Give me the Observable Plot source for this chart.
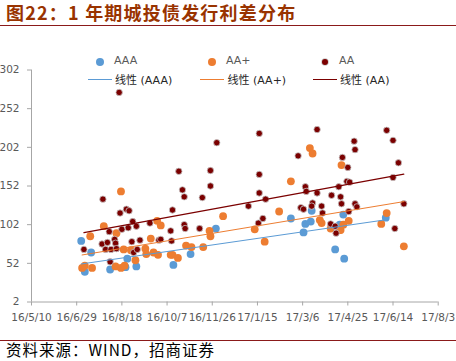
<!DOCTYPE html>
<html><head><meta charset="utf-8">
<script src="https://cdn.jsdelivr.net/npm/d3@7"></script>
<script src="https://cdn.jsdelivr.net/npm/@observablehq/plot@0.6"></script>
<style>
body{margin:0;background:#fff}
#wrap{position:relative;width:456px;height:361px;background:#fff}
.leg{position:absolute;font:11px "DejaVu Sans","Noto Sans CJK SC",sans-serif;color:#404040;white-space:nowrap;line-height:normal}
</style></head>
<body>
<div id="wrap">
  <div style="position:absolute;left:6px;top:-1px;font:bold 18px 'Noto Sans CJK SC';letter-spacing:1.2px;color:#993300;line-height:normal;white-space:nowrap">图22：1 年期城投债发行利差分布</div>
  <div style="position:absolute;left:0;top:24.5px;width:456px;border-top:1.5px solid #8B1A1A"></div>
  <div id="chart" style="position:absolute;left:0;top:28px"></div>
  <div id="legend"></div>
  <div style="position:absolute;left:0;top:339.5px;width:456px;border-top:1.5px solid #8B1A1A"></div>
  <div style="position:absolute;left:6px;top:338px;font:15.5px 'Noto Sans CJK SC';letter-spacing:1px;line-height:normal;color:#000;white-space:nowrap">资料来源：WIND，招商证券</div>
</div>
<script>
const seriesNames = ["AAA", "AA+", "AA"];
const trendNames = ["线性 (AAA)", "线性 (AA+)", "线性 (AA)"];
const colors = ["#5B9BD5", "#ED7D31", "#7B0000"];

const xTicks = ["2016-05-10","2016-06-29","2016-08-18","2016-10-07","2016-11-26","2017-01-15","2017-03-06","2017-04-25","2017-06-14","2017-08-03"];
const xTickLabels = ["16/5/10","16/6/29","16/8/18","16/10/7","16/11/26","17/1/15","17/3/6","17/4/25","17/6/14","17/8/3"];
const yTicks = [2, 52, 102, 152, 202, 252, 302];

const aaaDates = ["2016-07-04","2016-07-15","2016-07-08","2016-08-05","2016-08-24","2016-08-22","2016-09-03","2016-10-14","2016-11-02","2016-11-30","2017-02-21","2017-03-07","2017-03-09","2017-03-15","2017-03-16","2017-04-16","2017-04-20","2017-04-11","2017-04-21","2017-06-06"];
const aaaValues = [81,66,41,44,58,47,48,50,64,97,110,92,103,106,120,102,115,70,58,111];

const aapDates = ["2016-08-17","2016-07-29","2016-08-12","2016-07-14","2016-08-20","2016-08-28","2016-09-02","2016-07-05","2016-07-16","2016-08-11","2016-08-17","2016-08-21","2016-07-08","2016-12-08","2016-09-26","2016-09-30","2016-11-23","2016-11-24","2016-09-19","2016-09-13","2016-09-14","2016-09-22","2016-09-27","2016-10-11","2016-10-13","2016-10-19","2016-10-28","2016-11-03","2016-11-16","2017-03-14","2017-03-17","2017-04-18","2017-02-21","2017-02-08","2017-04-26","2017-03-25","2017-03-27","2017-01-12","2017-04-06","2017-04-16","2017-01-23","2017-06-07","2017-06-01","2017-04-20","2017-04-17","2017-06-26"];
const aapValues = [145,100,91,87,70,69,56,46,46,48,46,49,49,113,107,101,94,87,84,71,64,66,63,63,63,59,75,73,73,201,194,179,158,119,107,108,104,96,97,95,80,117,103,102,95,74];

const aaDates = ["2016-08-15","2016-07-28","2016-08-16","2016-08-23","2016-08-26","2016-08-30","2016-09-03","2016-08-04","2016-08-18","2016-08-25","2016-09-18","2016-07-27","2016-08-02","2016-08-10","2016-08-11","2016-08-29","2016-09-07","2016-07-07","2016-07-31","2016-08-06","2016-08-12","2016-08-31","2016-09-04","2016-08-05","2016-12-01","2017-01-17","2016-10-20","2016-11-24","2017-01-17","2016-10-24","2016-11-24","2016-10-26","2016-11-15","2017-01-17","2016-10-13","2017-01-05","2016-10-26","2016-10-27","2016-11-12","2016-10-11","2017-01-16","2016-09-28","2016-09-30","2016-10-12","2017-03-22","2017-03-01","2017-04-19","2017-05-02","2017-05-03","2017-04-25","2017-04-24","2017-04-27","2017-03-09","2017-03-10","2017-03-22","2017-01-24","2017-04-15","2017-04-07","2017-04-17","2017-03-17","2017-03-27","2017-04-18","2017-05-03","2017-05-05","2017-03-04","2017-03-07","2017-03-16","2017-03-28","2017-04-26","2017-01-21","2017-04-06","2017-04-11","2017-04-12","2017-06-07","2017-06-14","2017-06-20","2017-06-14","2017-06-26","2017-06-16"];
const aaValues = [273,135,117,122,120,106,100,93,96,98,104,77,79,83,78,80,82,70,70,70,71,66,70,54,208,220,171,172,167,147,152,138,137,143,121,126,102,97,97,94,104,82,83,81,225,191,189,210,199,176,158,157,151,145,143,135,151,140,138,130,126,129,129,125,124,122,126,117,119,110,103,100,91,224,211,182,163,129,97];

const toRows = (dates, values) => dates.map((d, i) => ({date: new Date(d + "T00:00:00Z"), value: values[i]}));
const aaa = toRows(aaaDates, aaaValues);
const aap = toRows(aapDates, aapValues);
const aa = toRows(aaDates, aaValues);
const tickDates = xTicks.map(d => new Date(d + "T00:00:00Z"));
const labelFor = d => xTickLabels[tickDates.findIndex(t => +t === +d)];

const axisColor = "#A6A6A6";
const chart = Plot.plot({
  width: 456, height: 308,
  marginLeft: 31, marginRight: 18.3, marginTop: 41.5, marginBottom: 34.5,
  style: {fontFamily: "DejaVu Sans", fontSize: "10.5px", background: "transparent", overflow: "visible"},
  x: {type: "utc", domain: [tickDates[0], tickDates[tickDates.length - 1]]},
  y: {domain: [2, 302]},
  marks: [
    Plot.ruleY([2], {stroke: axisColor}),
    Plot.ruleX([tickDates[0]], {stroke: axisColor}),
    Plot.axisX({ticks: tickDates, tickFormat: labelFor, tickSize: 4, tickPadding: 8, stroke: axisColor, fill: "#595959", label: null}),
    Plot.axisY({ticks: yTicks, tickSize: 4, tickPadding: 8, stroke: axisColor, fill: "#595959", label: null}),
    Plot.dot(aaa, {x: "date", y: "value", r: 3.9, fill: colors[0]}),
    Plot.dot(aap, {x: "date", y: "value", r: 3.9, fill: colors[1]}),
    Plot.dot(aa, {x: "date", y: "value", r: 3.2, fill: colors[2], stroke: "#C8C8C8", strokeWidth: 0.8}),
    Plot.linearRegressionY(aaa, {x: "date", y: "value", stroke: colors[0], strokeWidth: 1, ci: 0}),
    Plot.linearRegressionY(aap, {x: "date", y: "value", stroke: colors[1], strokeWidth: 1, ci: 0}),
    Plot.linearRegressionY(aa, {x: "date", y: "value", stroke: colors[2], strokeWidth: 1.2, ci: 0})
  ]
});
document.getElementById("chart").appendChild(chart);

// legend overlay
const legend = document.getElementById("legend");
const markerX = [100, 212, 325];
const lineX = [87.5, 200, 312.5];
seriesNames.forEach((name, i) => {
  const r = i === 2 ? 3.2 : 3.9;
  const dot = document.createElement("div");
  dot.style.cssText = `position:absolute;left:${markerX[i]-r}px;top:${62-r}px;width:${2*r}px;height:${2*r}px;border-radius:50%;background:${colors[i]};${i===2?'box-shadow:0 0 0 0.8px #C8C8C8;':''}`;
  legend.appendChild(dot);
  const t = document.createElement("div");
  t.className = "leg"; t.textContent = name;
  t.style.left = (markerX[i] + 14) + "px"; t.style.top = "54px"; t.style.color = "#595959";
  legend.appendChild(t);
  const ln = document.createElement("div");
  ln.style.cssText = `position:absolute;left:${lineX[i]}px;top:79px;width:24px;border-top:1px solid ${colors[i]}`;
  legend.appendChild(ln);
  const t2 = document.createElement("div");
  t2.className = "leg"; t2.textContent = trendNames[i];
  t2.style.left = (lineX[i] + 27.5) + "px"; t2.style.top = "71px"; t2.style.color = "#262626";
  legend.appendChild(t2);
});
</script>
</body></html>
